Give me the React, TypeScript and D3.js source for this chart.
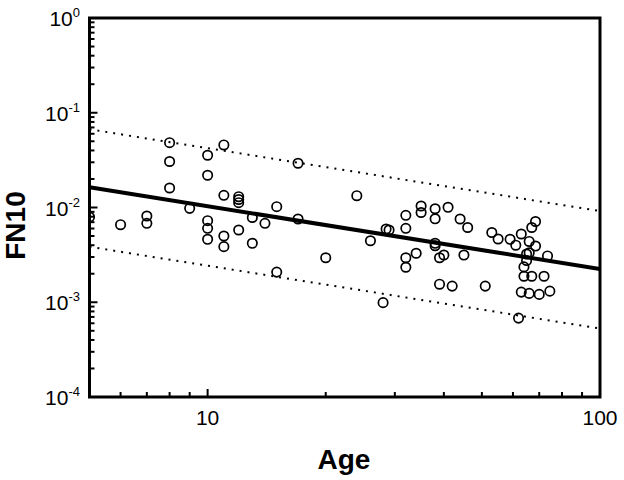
import React from "react";
import * as d3 from "d3";

// ---- data ----
const ages: number[] = [
  5, 6, 7, 7, 8, 8, 8, 9, 10, 10, 10, 10, 10, 11, 11, 11, 11, 12, 12, 12, 12, 13, 13, 14, 15, 15, 17, 17, 20,
  24, 26, 28, 28.5, 29, 32, 32, 32, 32, 34, 35, 35, 38, 38, 38, 38, 39, 40, 39, 41, 42, 44, 46, 45, 51, 53, 55,
  59, 61, 63, 66, 68.5, 67, 68.5, 66, 65, 65, 64, 64, 67, 72, 73.5, 63, 66, 70, 74.5, 62,
];
const fn10: number[] = [
  0.00794, 0.00658, 0.00813, 0.00681, 0.0483, 0.0306, 0.01606, 0.0098, 0.0356, 0.0219, 0.00726, 0.00603,
  0.00462, 0.0457, 0.01345, 0.005, 0.00386, 0.013, 0.01215, 0.01124, 0.00579, 0.00784, 0.00419, 0.00681,
  0.0102, 0.00208, 0.0293, 0.00756, 0.00295, 0.01332, 0.00446, 0.00099, 0.00593, 0.00579, 0.00827, 0.00603,
  0.00295, 0.00234, 0.00329, 0.01037, 0.00886, 0.0097, 0.0076, 0.00419, 0.00395, 0.00295, 0.00315, 0.00155,
  0.01005, 0.00148, 0.00756, 0.00615, 0.00315, 0.00148, 0.00545, 0.00465, 0.00462, 0.004, 0.00525, 0.00438,
  0.00392, 0.00615, 0.00712, 0.00333, 0.00323, 0.00276, 0.00236, 0.00188, 0.00188, 0.00188, 0.00308,
  0.00128, 0.00124, 0.00121, 0.00131, 0.00068,
];

const fitAges: number[] = [5, 100];
const fitLine: number[] = [0.01633, 0.002244];
const upperBand: number[] = [0.0669, 0.00918];
const lowerBand: number[] = [0.00385, 0.000528];

const xTickValues: number[] = [10, 100];
const xTickLabels: string[] = ["10", "100"];
const yTickValues: number[] = [1e-4, 1e-3, 1e-2, 1e-1, 1];
const yTickExponents: string[] = ["-4", "-3", "-2", "-1", "0"];

const xTitle = "Age";
const yTitle = "FN10";

export default function App() {
  const W = 624;
  const H = 480;
  const left = 89.5;
  const right = 600;
  const top = 18;
  const bottom = 397;

  const x = d3.scaleLog().domain([5, 100]).range([left, right]);
  const y = d3.scaleLog().domain([1e-4, 1]).range([bottom, top]);

  const pairs = (vals: number[]) => fitAges.map((a, i) => [a, vals[i]] as [number, number]);
  const line = d3
    .line<[number, number]>()
    .x((d) => x(d[0]))
    .y((d) => y(d[1]));

  // minor ticks
  const xMinor: number[] = [];
  for (let v = 6; v <= 9; v++) xMinor.push(v);
  for (let v = 20; v <= 90; v += 10) xMinor.push(v);
  const yMinor: number[] = [];
  for (let e = -4; e < 0; e++) for (let m = 2; m <= 9; m++) yMinor.push(m * Math.pow(10, e));

  const font = "Arial, 'Liberation Sans', Helvetica, sans-serif";

  return (
    <div style={{ position: "absolute", left: 0, top: 0, width: W, height: H, background: "#fff" }}>
      <svg width={W} height={H} viewBox={`0 0 ${W} ${H}`} style={{ display: "block" }}>
        <defs>
          <clipPath id="plotClip">
            <rect x={left} y={top} width={right - left} height={bottom - top} />
          </clipPath>
        </defs>
        <rect x={0} y={0} width={W} height={H} fill="#fff" />

        <g clipPath="url(#plotClip)">
          <path d={line(pairs(upperBand)) || ""} fill="none" stroke="#000" strokeWidth={2} strokeDasharray="2 6" />
          <path d={line(pairs(lowerBand)) || ""} fill="none" stroke="#000" strokeWidth={2} strokeDasharray="2 6" />
          <path d={line(pairs(fitLine)) || ""} fill="none" stroke="#000" strokeWidth={4} />
          {ages.map((a, i) => (
            <circle key={i} cx={x(a)} cy={y(fn10[i])} r={4.7} fill="none" stroke="#000" strokeWidth={1.7} />
          ))}
        </g>

        {/* ticks */}
        <g stroke="#000" strokeWidth={2}>
          {xTickValues.map((v) => (
            <line key={"xM" + v} x1={x(v)} x2={x(v)} y1={bottom} y2={bottom - 8} />
          ))}
          {xMinor.map((v) => (
            <line key={"xm" + v} x1={x(v)} x2={x(v)} y1={bottom} y2={bottom - 5} />
          ))}
          {yTickValues.map((v) => (
            <line key={"yM" + v} x1={left} x2={left + 8} y1={y(v)} y2={y(v)} />
          ))}
          {yMinor.map((v) => (
            <line key={"ym" + v} x1={left} x2={left + 5} y1={y(v)} y2={y(v)} />
          ))}
        </g>

        {/* frame */}
        <rect x={left} y={top} width={right - left} height={bottom - top} fill="none" stroke="#000" strokeWidth={3} />

        {/* x tick labels */}
        <g fontFamily={font} fontSize={21} fill="#000">
          {xTickValues.map((v, i) => (
            <text key={"xl" + v} x={x(v)} y={425} textAnchor="middle">
              {xTickLabels[i]}
            </text>
          ))}
        </g>

        {/* y tick labels */}
        <g fontFamily={font} fontSize={21} fill="#000">
          {yTickValues.map((v, i) => (
            <text key={"yl" + v} x={80} y={y(v) + 8} textAnchor="end">
              10
              <tspan fontSize={13} dy={-9}>
                {yTickExponents[i]}
              </tspan>
            </text>
          ))}
        </g>

        <text x={344} y={469} textAnchor="middle" fontFamily={font} fontSize={28} fontWeight="bold" fill="#000">
          {xTitle}
        </text>
        <text
          transform={`translate(25,${225.5}) rotate(-90)`}
          textAnchor="middle"
          fontFamily={font}
          fontSize={28}
          fontWeight="bold"
          fill="#000"
        >
          {yTitle}
        </text>
      </svg>
    </div>
  );
}
